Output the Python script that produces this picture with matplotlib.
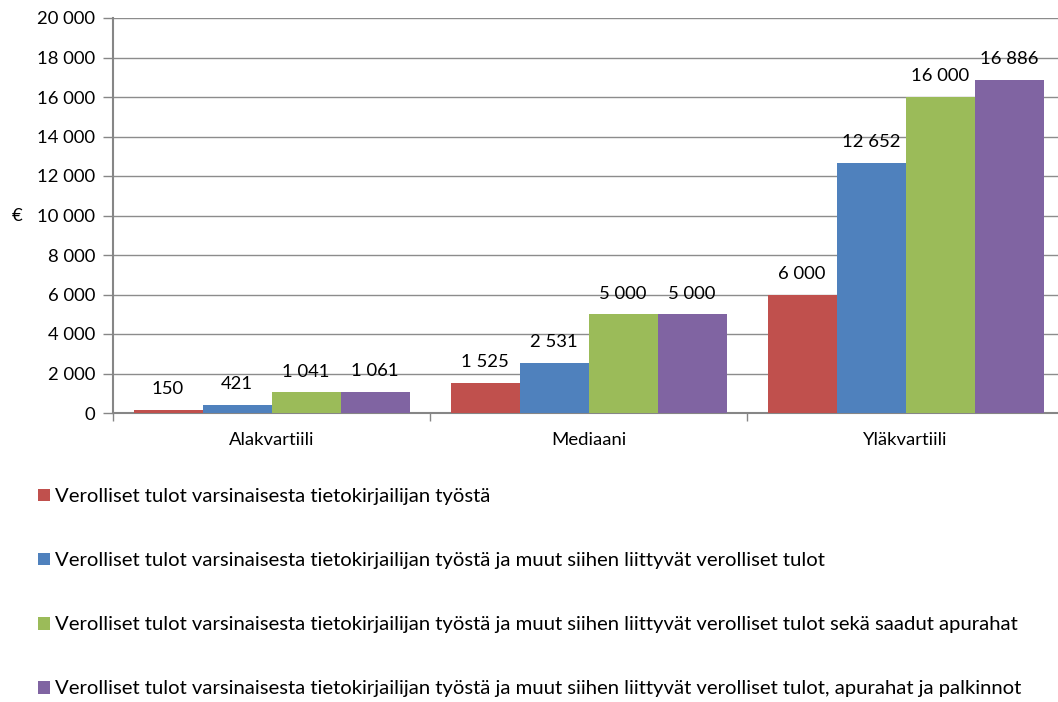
import matplotlib
matplotlib.use('Agg')
import matplotlib.pyplot as plt
from matplotlib.patches import Patch
import numpy as np

categories = ['Alakvartiili', 'Mediaani', 'Yläkvartiili']
series_names = [
    'Verolliset tulot varsinaisesta tietokirjailijan työstä',
    'Verolliset tulot varsinaisesta tietokirjailijan työstä ja muut siihen liittyvät verolliset tulot',
    'Verolliset tulot varsinaisesta tietokirjailijan työstä ja muut siihen liittyvät verolliset tulot sekä saadut apurahat',
    'Verolliset tulot varsinaisesta tietokirjailijan työstä ja muut siihen liittyvät verolliset tulot, apurahat ja palkinnot',
]
values = [
    [150, 1525, 6000],
    [421, 2531, 12652],
    [1041, 5000, 16000],
    [1061, 5000, 16886],
]
colors = ['#C0504D', '#4F81BD', '#9BBB59', '#8064A2']
y_ticks = np.arange(0, 20001, 2000)

plt.rcParams['font.family'] = ['Lato', 'DejaVu Sans']
fs = 13.3
lfs = 14.55

def fmt(v):
    return f'{v:,}'.replace(',', ' ')

fig = plt.figure(figsize=(10.58, 7.02), dpi=100)
ax = fig.add_axes([113/1058, 1 - 413/702, (1064 - 113)/1058, (413 - 18)/702])

x = np.arange(len(categories))
w = 69/317
for i, (vals, c) in enumerate(zip(values, colors)):
    pos = x + (i - 1.5)*w
    ax.bar(pos, vals, width=w, color=c, zorder=3)
    for p, v in zip(pos, vals):
        ax.text(p, v + 1050, fmt(v), ha='center', va='center', fontsize=fs, color='black', zorder=4)

ax.set_xlim(-0.5, 2.5)
ax.set_ylim(0, 20000)
ax.set_yticks(y_ticks)
ax.set_yticklabels([fmt(t) for t in y_ticks], fontsize=fs)
ax.set_xticks(x)
ax.set_xticklabels(categories, fontsize=fs)
ax.set_xticks([-0.5, 0.5, 1.5, 2.5], minor=True)
ax.tick_params(axis='x', which='major', length=0, pad=14)
ax.tick_params(axis='x', which='minor', length=6, color='#868686', width=1)
ax.tick_params(axis='y', length=7, color='#868686', width=1, pad=6)
ax.grid(axis='y', color='#8c8c8c', linewidth=1, zorder=0)
for s in ['top', 'right']:
    ax.spines[s].set_visible(False)
for s in ['left', 'bottom']:
    ax.spines[s].set_color('#868686')
    ax.spines[s].set_linewidth(1.5)

fig.text(17/1058, 1 - 216/702, '€', fontsize=fs, ha='center', va='center')

handles = [Patch(facecolor=c, edgecolor='none') for c in colors]
fig.legend(handles, series_names, loc='upper left', bbox_to_anchor=(28/1058, 1 - 478/702),
           frameon=False, fontsize=lfs, handlelength=0.6, handleheight=0.6,
           handletextpad=0.25, labelspacing=2.33, borderpad=0)

fig.savefig('out.png', dpi=100)
